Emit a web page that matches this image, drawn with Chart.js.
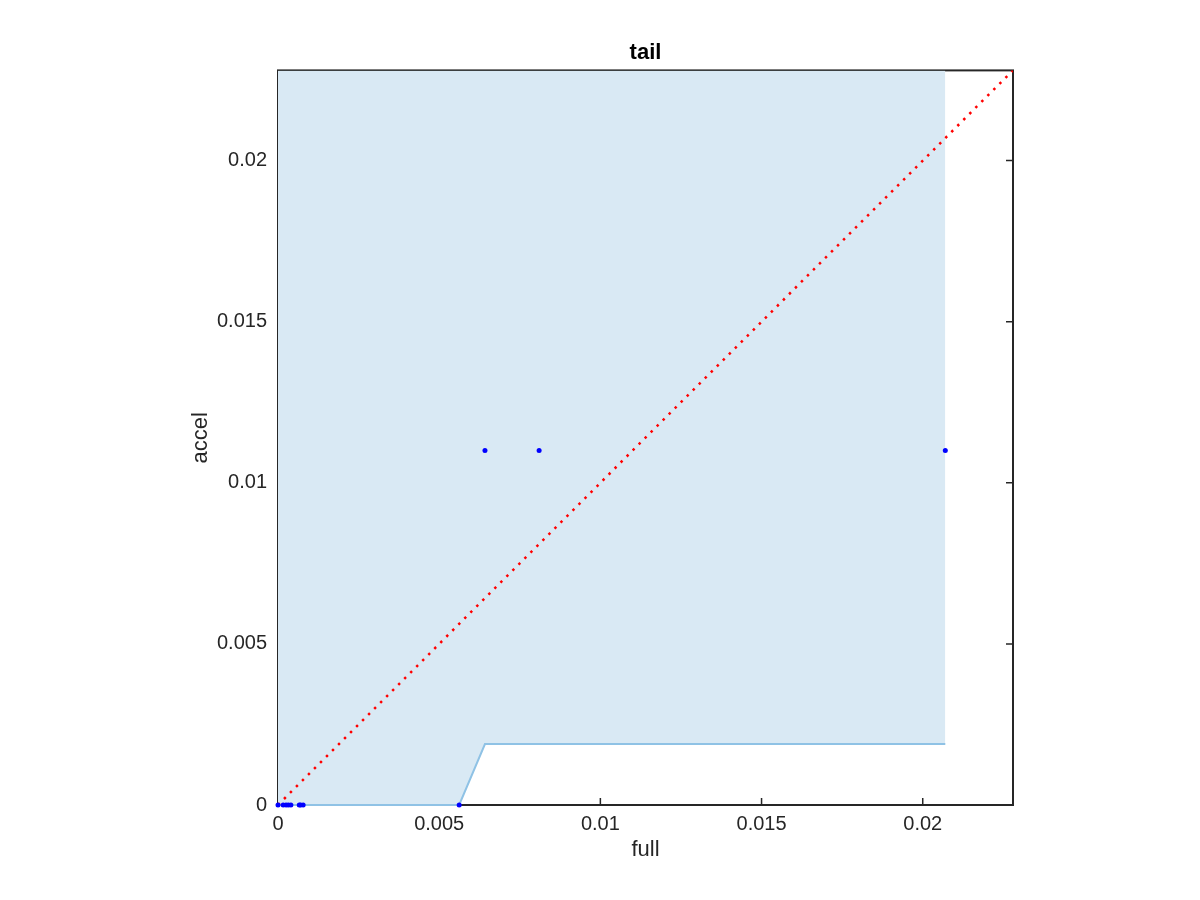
<!DOCTYPE html>
<html>
<head>
<meta charset="utf-8">
<title>tail</title>
<script src="https://cdn.jsdelivr.net/npm/chart.js@4.4.1/dist/chart.umd.min.js"></script>
<style>
    html, body { margin: 0; padding: 0; background: #fff; }
    #wrap { width: 1200px; height: 900px; }
</style>
</head>
<body>
<div id="wrap"><canvas id="tailChart" width="1200" height="900"></canvas></div>
<script>
// Data
const axisMax = 0.0228;
const tickValues = [0, 0.005, 0.01, 0.015, 0.02];
const tickLabels = ['0', '0.005', '0.01', '0.015', '0.02'];

// scatter of (full, accel) pairs
const pointsFull  = [0, 0.00016, 0.00025, 0.00032, 0.0004, 0.00066, 0.0007, 0.00078, 0.00562, 0.00642, 0.0081, 0.0207];
const pointsAccel = [0, 0, 0, 0, 0, 0, 0, 0, 0, 0.011, 0.011, 0.011];

// lower envelope of the shaded band
const bandFull  = [0, 0.00562, 0.00642, 0.0207];
const bandAccel = [0, 0, 0.00189, 0.00189];

// reference diagonal y = x
const diagFull  = [0, axisMax];

const FONT = '"Liberation Sans", Arial, Helvetica, sans-serif';
const INK = '#262626';

function toXY(xs, ys) {
    return xs.map((x, i) => ({ x: x, y: ys[i] }));
}

// Box around the axes with inward ticks on all four sides (drawn under the data)
const framePlugin = {
    id: 'frame',
    beforeDatasetsDraw(chart) {
        const { ctx, chartArea: a, scales } = chart;
        const len = 7;
        ctx.save();
        ctx.strokeStyle = INK;
        ctx.lineWidth = 1.5;
        ctx.beginPath();
        tickValues.forEach(v => {
            const px = scales.x.getPixelForValue(v);
            const py = scales.y.getPixelForValue(v);
            ctx.moveTo(px, a.bottom); ctx.lineTo(px, a.bottom - len);
            ctx.moveTo(px, a.top); ctx.lineTo(px, a.top + len);
            ctx.moveTo(a.left, py); ctx.lineTo(a.left + len, py);
            ctx.moveTo(a.right, py); ctx.lineTo(a.right - len, py);
        });
        ctx.stroke();
        ctx.lineWidth = 2;
        ctx.strokeRect(a.left, a.top, a.right - a.left, a.bottom - a.top);
        ctx.restore();
    }
};

const tickOpts = {
    color: INK,
    font: { family: FONT, size: 20 },
    autoSkip: false,
    maxRotation: 0,
    callback: function(value) {
        const i = tickValues.indexOf(value);
        return i >= 0 ? tickLabels[i] : '';
    }
};

function keepTicks(scale) {
    scale.ticks = tickValues.map(v => ({ value: v }));
}

new Chart(document.getElementById('tailChart'), {
    type: 'scatter',
    data: {
        datasets: [
            {
                label: 'points',
                data: toXY(pointsFull, pointsAccel),
                backgroundColor: '#0000ff',
                borderColor: '#0000ff',
                pointRadius: 2.5,
                borderWidth: 0,
                showLine: false,
                clip: false,
                order: 1
            },
            {
                label: 'diagonal',
                data: toXY(diagFull, diagFull),
                showLine: true,
                borderColor: '#ff0000',
                borderWidth: 2.5,
                borderDash: [2.5, 6],
                pointRadius: 0,
                fill: false,
                order: 2
            },
            {
                label: 'band',
                data: toXY(bandFull, bandAccel),
                showLine: true,
                borderColor: '#8fc2e5',
                borderWidth: 2,
                backgroundColor: '#d9e9f4',
                pointRadius: 0,
                tension: 0,
                fill: 'end',
                clip: 2,
                order: 3
            }
        ]
    },
    options: {
        responsive: false,
        animation: false,
        events: [],
        layout: { padding: { left: 0, right: 187, top: 0, bottom: 0 } },
        plugins: {
            legend: { display: false },
            tooltip: { enabled: false },
            title: {
                display: true,
                text: 'tail',
                fullSize: false,
                color: '#000',
                font: { family: FONT, size: 22, weight: 'bold', lineHeight: 1.2 },
                padding: { top: 40, bottom: 4 }
            }
        },
        scales: {
            x: {
                type: 'linear',
                min: 0,
                max: axisMax,
                grid: { display: false, drawTicks: false },
                border: { display: false },
                ticks: Object.assign({ padding: 7 }, tickOpts),
                afterBuildTicks: keepTicks,
                afterFit: function(scale) { scale.height = 95; },
                title: {
                    display: true,
                    text: 'full',
                    color: INK,
                    font: { family: FONT, size: 22, lineHeight: 1.2 },
                    padding: { top: 0, bottom: 37 }
                }
            },
            y: {
                type: 'linear',
                min: 0,
                max: axisMax,
                grid: { display: false, drawTicks: false },
                border: { display: false },
                ticks: Object.assign({ padding: 11 }, tickOpts),
                afterBuildTicks: keepTicks,
                afterFit: function(scale) { scale.width = 278; },
                title: {
                    display: true,
                    text: 'accel',
                    color: INK,
                    font: { family: FONT, size: 22, lineHeight: 1.2 },
                    padding: { top: 188, bottom: 0 }
                }
            }
        }
    },
    plugins: [framePlugin]
});
</script>
</body>
</html>
